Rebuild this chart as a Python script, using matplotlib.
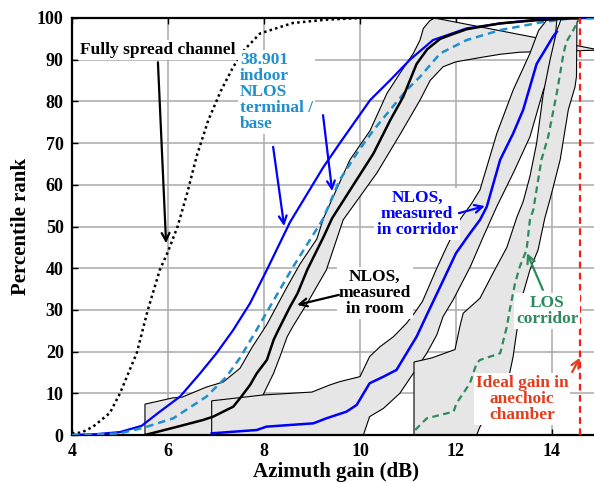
import matplotlib
matplotlib.use("Agg")
import matplotlib.pyplot as plt

plt.rcParams['font.family'] = ['Liberation Serif', 'DejaVu Serif']
plt.rcParams['font.weight'] = 'bold'

# ---------------- data (azimuth gain dB, percentile %) ----------------
spread_x = [4.0, 4.2, 4.44, 4.79, 5.0, 5.35, 5.58, 5.83, 6.0, 6.2, 6.4, 6.6, 6.84, 7.1, 7.36, 7.6, 7.92, 8.6, 9.3, 10.0]
spread_y = [0.4, 0.6, 2.0, 5.3, 10.0, 19.7, 30.0, 39.6, 44.0, 50.0, 58.0, 67.0, 75.5, 82.5, 88.3, 92.5, 96.3, 98.8, 99.6, 100.0]

term_x = [4.0, 4.5, 5.0, 5.45, 5.83, 6.25, 6.67, 7.01, 7.36, 7.71, 8.06, 8.54, 9.24, 9.58, 10.21, 10.63, 11.04, 11.52, 12.22, 12.92, 13.6, 14.3, 15.0]
term_y = [0.0, 0.2, 0.7, 2.2, 5.6, 9.2, 14.8, 19.6, 25.2, 31.6, 39.6, 51.0, 64.3, 70.0, 80.3, 85.1, 90.0, 94.7, 97.5, 98.7, 99.5, 100.0, 100.0]

base_x = [4.0, 4.6, 5.0, 5.48, 6.11, 6.8, 7.22, 7.5, 7.81, 8.06, 8.61, 9.22, 9.58, 9.93, 10.28, 10.63, 10.97, 11.25, 11.67, 12.22, 12.92, 13.75, 14.3, 15.0]
base_y = [0.0, 0.2, 0.4, 1.7, 4.0, 9.2, 14.0, 18.5, 24.5, 29.5, 40.4, 51.6, 61.2, 67.5, 73.1, 78.0, 82.7, 85.9, 91.5, 94.7, 97.1, 98.9, 99.8, 100.0]

room_x = [5.52, 6.2, 6.73, 6.94, 7.36, 7.5, 7.71, 7.85, 8.06, 8.2, 8.3, 8.54, 8.7, 8.9, 9.24, 9.42, 9.93, 10.28, 10.63, 10.9, 11.18, 11.4, 11.67, 11.9, 12.22, 12.56, 12.92, 13.6, 14.2, 14.6]
room_y = [0.0, 2.0, 3.6, 4.4, 6.8, 8.8, 12.0, 14.8, 18.0, 22.8, 25.2, 30.7, 34.0, 39.6, 47.5, 52.0, 61.2, 67.5, 75.5, 81.1, 89.0, 92.5, 95.0, 96.0, 97.3, 98.0, 98.7, 99.4, 99.8, 100.0]

room_hi_x = [5.52, 5.52, 6.1, 6.3, 6.8, 7.15, 7.5, 7.75, 8.06, 8.48, 8.75, 9.1, 9.24, 9.79, 10.21, 10.56, 10.83, 11.11, 11.25, 11.32, 11.45, 11.55]
room_hi_y = [0.0, 7.4, 8.9, 9.1, 11.5, 12.7, 16.0, 21.0, 26.5, 35.5, 41.0, 47.0, 52.0, 66.0, 73.0, 81.9, 86.7, 91.5, 94.7, 97.5, 99.3, 100.0]
room_lo_x = [7.4, 7.7, 7.98, 8.2, 8.33, 8.48, 8.6, 8.9, 9.3, 9.65, 10.35, 10.83, 11.25, 11.46, 11.73, 12.0, 12.5, 12.92, 13.33, 14.0, 15.0]
room_lo_y = [0.0, 5.0, 9.6, 14.8, 18.7, 23.5, 26.0, 31.6, 39.6, 51.6, 62.8, 72.0, 80.3, 85.0, 88.3, 89.5, 90.5, 91.3, 91.8, 92.0, 92.3]

corr_x = [6.91, 7.85, 8.05, 9.03, 9.3, 9.72, 9.93, 10.2, 10.49, 10.76, 10.97, 11.18, 11.4, 11.73, 12.0, 12.3, 12.5, 12.64, 12.92, 13.19, 13.4, 13.68, 13.89, 14.02, 14.1]
corr_y = [0.4, 1.2, 2.0, 2.8, 4.0, 5.6, 7.2, 12.4, 14.0, 15.6, 19.6, 23.6, 29.0, 37.0, 43.6, 48.5, 51.6, 54.7, 66.0, 72.3, 78.0, 89.0, 93.0, 95.5, 96.7]

corr_hi_x = [6.91, 6.91, 7.3, 7.98, 9.0, 9.37, 9.58, 10.0, 10.2, 10.42, 10.7, 10.97, 11.15, 11.3, 11.45, 11.6, 11.8, 12.08, 12.33, 12.5, 12.85, 13.19, 13.54, 13.72, 13.89, 14.0]
corr_hi_y = [0.0, 8.2, 8.7, 9.6, 10.3, 12.0, 12.8, 14.0, 18.8, 21.2, 23.6, 26.8, 29.5, 32.0, 36.0, 40.0, 45.0, 51.6, 55.6, 58.8, 72.3, 82.7, 91.5, 97.0, 99.5, 100.0]
corr_lo_x = [10.07, 10.2, 10.49, 10.83, 11.04, 11.125, 11.25, 11.39, 11.6, 11.73, 11.94, 12.3, 12.57, 12.85, 13.2, 13.54, 13.82, 13.99, 14.05, 14.1, 14.15]
corr_lo_y = [0.0, 4.4, 6.4, 10.0, 13.6, 15.0, 17.2, 19.6, 24.0, 28.4, 32.4, 40.4, 47.6, 54.8, 63.0, 71.5, 82.7, 86.7, 93.0, 99.5, 100.0]

los_x = [11.15, 11.39, 11.95, 12.01, 12.29, 12.43, 12.5, 12.92, 13.06, 13.12, 13.23, 13.33, 13.47, 13.54, 13.61, 13.78, 13.92, 14.1, 14.24, 14.3, 14.44, 14.55]
los_y = [1.2, 4.0, 5.6, 7.6, 12.4, 17.2, 18.0, 19.6, 26.0, 30.0, 36.4, 40.4, 44.4, 51.6, 54.0, 66.0, 71.5, 82.0, 91.5, 94.3, 97.0, 99.5]

los_hi_x = [11.125, 11.125, 11.5, 11.98, 12.08, 12.15, 12.5, 12.77, 13.06, 13.27, 13.4, 13.54, 13.68, 13.82, 13.96, 14.1, 14.2]
los_hi_y = [0.0, 17.5, 18.5, 20.5, 26.0, 29.2, 32.8, 38.8, 45.0, 52.3, 56.0, 62.0, 70.0, 82.0, 90.0, 97.0, 100.0]
los_lo_x = [12.43, 12.5, 12.78, 13.06, 13.19, 13.26, 13.4, 13.54, 13.71, 13.85, 13.97, 14.17, 14.34, 14.48, 14.51, 14.52, 14.55]
los_lo_y = [0.0, 2.0, 6.8, 11.6, 18.8, 24.4, 34.0, 39.6, 44.4, 52.0, 57.0, 66.0, 78.0, 83.5, 86.0, 98.8, 100.0]

ideal_gain = 14.58

x_ticks = [4, 6, 8, 10, 12, 14]
y_ticks = [0, 10, 20, 30, 40, 50, 60, 70, 80, 90, 100]

# ---------------- figure ----------------
W, H = 594, 483
fig = plt.figure(figsize=(W / 100, H / 100), dpi=100)
ax = fig.add_axes([72 / W, (H - 435) / H, (600 - 72) / W, (435 - 18) / H])

ax.set_xlim(4, 15)
ax.set_ylim(0, 100)
ax.set_axisbelow(True)
ax.grid(True, color='#aaaaaa', lw=1.1, zorder=0)

GRAY = '#e6e6e6'

def band(hx, hy, lx, ly, z):
    px = list(hx) + list(lx[::-1])
    py = list(hy) + list(ly[::-1])
    ax.fill(px, py, facecolor=GRAY, edgecolor='black', lw=0.8, zorder=z)

band(room_hi_x, room_hi_y, room_lo_x, room_lo_y, 1)
band(corr_hi_x, corr_hi_y, corr_lo_x, corr_lo_y, 1.1)
band(los_hi_x, los_hi_y, los_lo_x, los_lo_y, 1.2)

ax.plot(spread_x, spread_y, color='black', lw=1.8, ls=(0, (1, 1.3)), zorder=3)
ax.plot(term_x, term_y, color='#0000ff', lw=1.6, zorder=3)
ax.plot(base_x, base_y, color='#1f8fd0', lw=1.8, ls=(0, (3, 2)), zorder=3)
ax.plot(room_x, room_y, color='black', lw=1.8, zorder=3)
ax.plot(corr_x, corr_y, color='#0000ff', lw=1.8, zorder=3)
ax.plot(los_x, los_y, color='#2e8a5c', lw=1.6, ls=(0, (3, 2)), zorder=3)
ax.plot([ideal_gain, ideal_gain], [0, 100], color='#ff1a1a', lw=1.6, ls=(0, (3, 2)), zorder=3)

ax.set_xticks(x_ticks)
ax.set_yticks(y_ticks)
ax.tick_params(direction='in', length=4, width=1, top=True, right=False,
               labelsize=13, pad=6)
for lab in ax.get_xticklabels() + ax.get_yticklabels():
    lab.set_fontweight('bold')
for s in ['left', 'bottom', 'top']:
    ax.spines[s].set_linewidth(1.6)
ax.spines['right'].set_visible(False)

ax.set_xlabel('Azimuth gain (dB)', fontsize=15, fontweight='bold', labelpad=1)
ax.set_ylabel('Percentile rank', fontsize=15, fontweight='bold', labelpad=4)

bb = dict(facecolor='white', edgecolor='none', pad=1.5)
fs = 12.5

def arrow(tail, tip, color):
    ax.annotate('', xy=tip, xytext=tail, zorder=6,
                arrowprops=dict(arrowstyle='->', color=color, lw=1.6,
                                shrinkA=0, shrinkB=0, mutation_scale=14))

ax.text(5.79, 92.3, 'Fully spread channel', fontsize=fs, fontweight='bold',
        ha='center', va='center', color='black', bbox=bb, zorder=5)
arrow((5.79, 89.4), (5.96, 46.0), 'black')

ax.text(7.5, 91.8, '38.901\nindoor\nNLOS\nterminal /\nbase', fontsize=fs,
        fontweight='bold', ha='left', va='top', color='#1f8fd0',
        linespacing=1.0, bbox=bb, zorder=5)
arrow((8.19, 69.1), (8.42, 50.1), '#0000ff')
arrow((9.23, 76.7), (9.42, 58.5), '#0000ff')

ax.text(11.19, 53.0, 'NLOS,\nmeasured\nin corridor', fontsize=fs, fontweight='bold',
        ha='center', va='center', color='#0000ff', linespacing=1.0, bbox=bb, zorder=5)
arrow((12.06, 53.2), (12.6, 54.9), '#0000ff')

ax.text(10.31, 34.0, 'NLOS,\nmeasured\nin room', fontsize=fs, fontweight='bold',
        ha='center', va='center', color='black', linespacing=1.0, bbox=bb, zorder=5)
arrow((9.56, 33.6), (8.69, 31.2), 'black')

ax.text(13.9, 29.7, 'LOS\ncorridor', fontsize=fs, fontweight='bold',
        ha='center', va='center', color='#2e8a5c', linespacing=1.0, bbox=bb, zorder=5)
arrow((13.81, 34.8), (13.48, 43.6), '#2e8a5c')

ax.text(13.375, 8.6, 'Ideal gain in\nanechoic\nchamber', fontsize=fs, fontweight='bold',
        ha='center', va='center', color='#e63c1e', linespacing=1.0, bbox=bb, zorder=5)
arrow((14.42, 15.1), (14.58, 18.5), '#e63c1e')

fig.savefig('out.png', dpi=100)
